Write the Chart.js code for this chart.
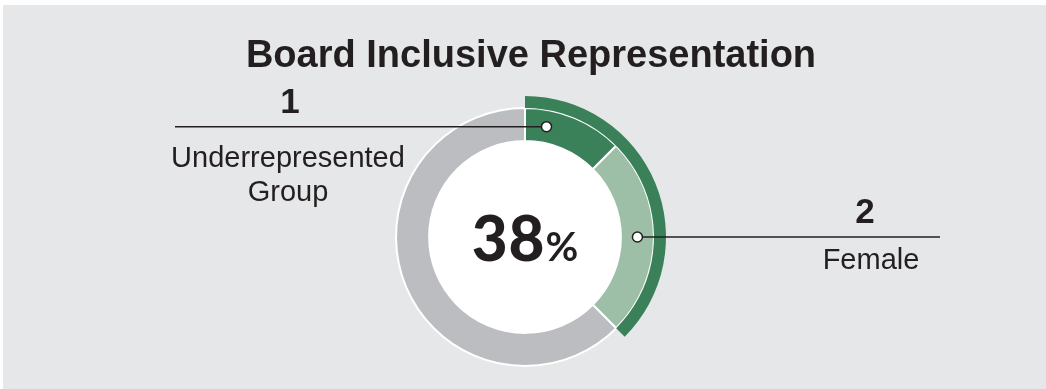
<!DOCTYPE html>
<html>
<head>
<meta charset="utf-8">
<script src="https://cdn.jsdelivr.net/npm/chart.js@4.4.1/dist/chart.umd.min.js"></script>
<style>
  html, body { margin: 0; padding: 0; background: #ffffff; }
  body { width: 1046px; height: 389px; position: relative; overflow: hidden;
         font-family: "Liberation Sans", Arial, sans-serif; color: #231f20; }
  #panel { position: absolute; left: 3px; top: 5px; right: 0; bottom: 0; background: #e6e7e8; }
  #myChart { position: absolute; left: 0; top: 0; }
  .lbl { position: absolute; text-align: center; white-space: nowrap; }
  #title { left: 231px; width: 600px; top: 35px; font-size: 38px; font-weight: bold; line-height: 38px; }
  .num { font-size: 35px; font-weight: bold; line-height: 35px; }
  .name { font-size: 29px; line-height: 34px; }
  #pct { left: 425px; width: 200px; top: 206px; font-family: Lato, "Open Sans", sans-serif;
         font-weight: 900; font-size: 62px; line-height: 62px; letter-spacing: 1px; }
  #pct small { font-size: 40px; font-weight: 700; letter-spacing: 0; }
</style>
</head>
<body>
<div id="panel"></div>
<canvas id="myChart" width="1046" height="389"></canvas>
<div class="lbl" id="title">Board Inclusive Representation</div>
<div class="lbl num" id="n0" style="left:190px;width:200px;top:83px;"></div>
<div class="lbl name" id="c0" style="left:138px;width:300px;top:140px;"></div>
<div class="lbl num" id="n1" style="left:765px;width:200px;top:193px;"></div>
<div class="lbl name" id="c1" style="left:771px;width:200px;top:242px;"></div>
<div class="lbl" id="pct"></div>
<script>
// board seats
var categories = ["Underrepresented Group", "Female", "Other"];
var seats = [1, 2, 5];
var barColors = ["#3a8159", "#9dbfa8", "#bcbdc0"];

// outer arc = underrepresented + female share
var highlight = [seats[0] + seats[1], seats[2]];
var total = seats[0] + seats[1] + seats[2];
var pct = Math.round(highlight[0] / total * 100);

// where the leader lines end (x) and where on the slice the dot sits
var leaderEnd = [175, 940];
var dotFrac = [0.245, 0.5];

document.getElementById("n0").textContent = seats[0];
document.getElementById("n1").textContent = seats[1];
document.getElementById("c0").innerHTML = "Underrepresented<br>Group";
document.getElementById("c1").textContent = categories[1];
document.getElementById("pct").innerHTML = pct + "<small>%</small>";

var centerFill = {
  id: "centerFill",
  beforeDatasetsDraw: function(chart) {
    var meta = chart.getDatasetMeta(1);
    var arc = meta.data[0];
    var ctx = chart.ctx;
    ctx.save();
    ctx.fillStyle = "#ffffff";
    ctx.beginPath();
    ctx.arc(arc.x, arc.y, meta.controller.innerRadius, 0, Math.PI * 2);
    ctx.fill();
    ctx.restore();
  },
  afterDatasetsDraw: function(chart) {
    var meta = chart.getDatasetMeta(1);
    var ctx = chart.ctx;
    ctx.save();
    for (var i = 0; i < 2; i++) {
      var a = meta.data[i];
      var ang = a.startAngle + (a.endAngle - a.startAngle) * dotFrac[i];
      var r = (a.innerRadius + a.outerRadius) / 2;
      var px = a.x + Math.cos(ang) * r;
      var py = a.y + Math.sin(ang) * r;
      ctx.strokeStyle = "#231f20";
      ctx.lineWidth = 1.5;
      ctx.beginPath();
      ctx.moveTo(px, py);
      ctx.lineTo(leaderEnd[i], py);
      ctx.stroke();
      ctx.fillStyle = "#ffffff";
      ctx.beginPath();
      ctx.arc(px, py, 5, 0, Math.PI * 2);
      ctx.fill();
      ctx.stroke();
    }
    ctx.restore();
  }
};

new Chart("myChart", {
  type: "doughnut",
  data: {
    labels: categories,
    datasets: [{
      data: highlight,
      backgroundColor: [barColors[0], "rgba(0,0,0,0)"],
      borderWidth: 0,
      hoverBorderWidth: 0,
      weight: 12
    }, {
      data: seats,
      backgroundColor: barColors,
      borderColor: "#ffffff",
      borderWidth: 2,
      hoverBorderWidth: 2,
      weight: 33
    }]
  },
  options: {
    responsive: false,
    animation: false,
    cutout: "68%",
    layout: { padding: { left: 384, right: 380, top: 96, bottom: 11 } },
    plugins: {
      legend: { display: false },
      title: { display: false },
      tooltip: { enabled: false }
    },
    events: []
  },
  plugins: [centerFill]
});
</script>
</body>
</html>
